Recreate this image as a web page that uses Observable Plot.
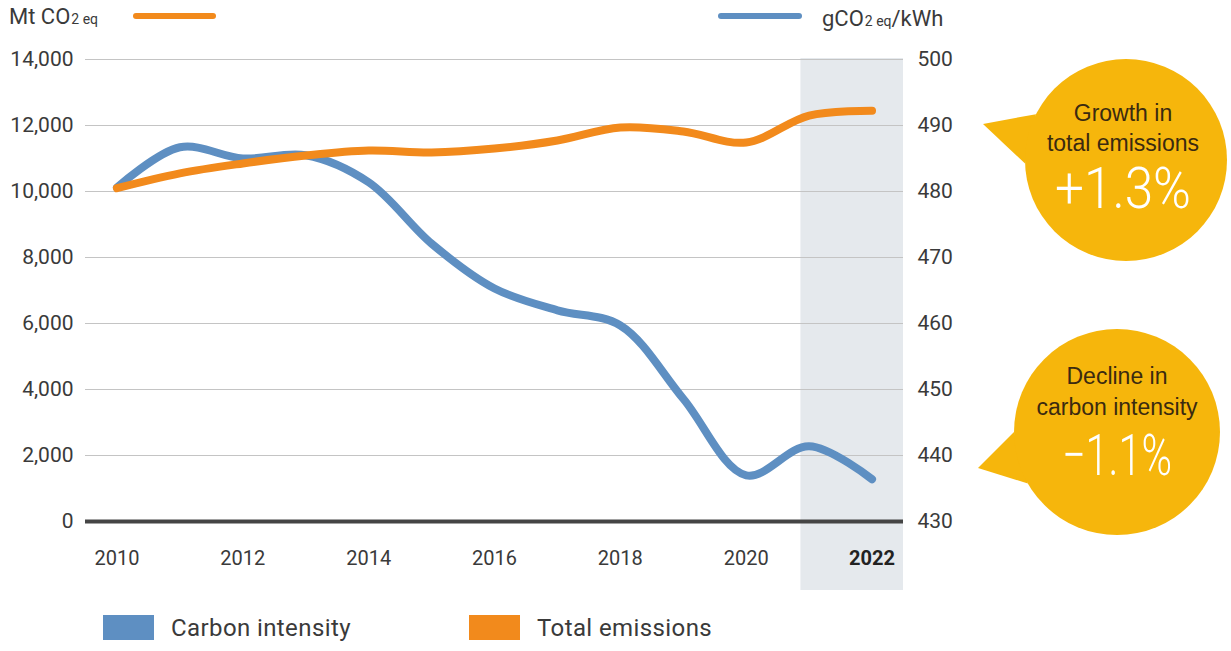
<!DOCTYPE html>
<html>
<head>
<meta charset="utf-8">
<script src="https://cdn.jsdelivr.net/npm/d3@7"></script>
<script src="https://cdn.jsdelivr.net/npm/@observablehq/plot@0.6"></script>
<style>
  body { margin: 0; background: #fff; }
  #root { position: relative; width: 1231px; height: 651px; font-family: Roboto, "Noto Sans", sans-serif; color: #333; }
  #legend { position: absolute; top: 614px; left: 103px; height: 27px; display: flex; align-items: center; font-size: 24px; letter-spacing: 0.4px; color: #3a3a3a; }
  .sw { display: inline-block; width: 51px; height: 25px; margin-right: 17px; }
</style>
</head>
<body>
<div id="root"></div>
<script>
// ---- data ----
const years = [2010, 2011, 2012, 2013, 2014, 2015, 2016, 2017, 2018, 2019, 2020, 2021, 2022];
const totalEmissions = [10100, 10550, 10850, 11090, 11240, 11180, 11300, 11545, 11940, 11820, 11485, 12300, 12450]; // Mt CO2eq
const carbonIntensity = [480.6, 486.7, 485.0, 485.5, 481.4, 472.1, 465.3, 462.0, 459.7, 448.6, 437.0, 441.4, 436.4]; // gCO2eq/kWh
const leftTicks = [0, 2000, 4000, 6000, 8000, 10000, 12000, 14000];
const rightDomain = [430, 500];
const xTickYears = [2010, 2012, 2014, 2016, 2018, 2020, 2022];
const highlightYear = 2022;
const highlightSpan = [2020.87, 2022.5];
const seriesNames = ["Carbon intensity", "Total emissions"];
const colors = {intensity: "#5E8FC2", total: "#F28A1C"};

const leftMax = 14000;
const toLeft = g => (g - rightDomain[0]) * leftMax / (rightDomain[1] - rightDomain[0]);
const toRight = v => rightDomain[0] + v * (rightDomain[1] - rightDomain[0]) / leftMax;

const rows = years.map((year, i) => ({year, total: totalEmissions[i], intensity: carbonIntensity[i]}));

const chart = Plot.plot({
  width: 1231,
  height: 600,
  marginTop: 59,
  marginBottom: 79,
  marginLeft: 85,
  marginRight: 328,
  style: {fontFamily: "Roboto, 'Noto Sans', sans-serif", fontSize: "21px", color: "#3a3a3a", background: "transparent", overflow: "visible"},
  x: {domain: [2009.5, 2022.5], axis: null, label: null},
  y: {domain: [0, leftMax], axis: null, label: null},
  marks: [
    Plot.rect([{x1: highlightSpan[0], x2: highlightSpan[1]}], {x1: "x1", x2: "x2", fill: "#E5E9ED", insetBottom: -69, insetTop: -1}),
    Plot.gridY(leftTicks, {stroke: "#c4c4c4", strokeOpacity: 1, strokeWidth: 1}),
    Plot.axisY(leftTicks, {anchor: "left", label: null, tickSize: 0, tickPadding: 12, tickFormat: d3.format(","), fontSize: 21}),
    Plot.axisY(leftTicks, {anchor: "right", label: null, tickSize: 0, tickPadding: 14, tickFormat: d => String(Math.round(toRight(d))), fontSize: 21}),
    Plot.axisX(xTickYears.filter(y => y !== highlightYear), {anchor: "bottom", label: null, tickSize: 0, tickPadding: 29, tickFormat: d => String(d), fontSize: 20}),
    Plot.axisX([highlightYear], {anchor: "bottom", label: null, tickSize: 0, tickPadding: 29, tickFormat: d => String(d), fontSize: 20, fontWeight: "bold", fill: "#222"}),
    Plot.line(rows, {x: "year", y: d => toLeft(d.intensity), curve: "catmull-rom", stroke: colors.intensity, strokeWidth: 8, strokeLinecap: "round", strokeLinejoin: "round"}),
    Plot.line(rows, {x: "year", y: "total", curve: "catmull-rom", stroke: colors.total, strokeWidth: 8, strokeLinecap: "round", strokeLinejoin: "round"}),
    Plot.ruleY([0], {stroke: "#454545", strokeWidth: 4})
  ]
});

document.getElementById("root").appendChild(chart);

// ---- header unit labels ----
const svg = d3.select(chart);
const hdr = svg.append("g").attr("font-family", "Roboto, 'Noto Sans', sans-serif").attr("fill", "#3a3a3a").attr("text-anchor", "start");
const t1 = hdr.append("text").attr("x", 9).attr("y", 24).attr("font-size", 22);
t1.append("tspan").text("Mt CO");
t1.append("tspan").attr("font-size", 14).attr("dx", 1).text("2 eq");
hdr.append("line").attr("x1", 136).attr("x2", 213).attr("y1", 16).attr("y2", 16)
  .attr("stroke", colors.total).attr("stroke-width", 6).attr("stroke-linecap", "round");
hdr.append("line").attr("x1", 721).attr("x2", 799).attr("y1", 16).attr("y2", 16)
  .attr("stroke", colors.intensity).attr("stroke-width", 6).attr("stroke-linecap", "round");
const t2 = hdr.append("text").attr("x", 822).attr("y", 26).attr("font-size", 22);
t2.append("tspan").text("gCO");
t2.append("tspan").attr("font-size", 14).attr("dx", 1).text("2 eq");
t2.append("tspan").text("/kWh");

// ---- callout bubbles ----
function bubble(cx, cy, r, tip, a1, a2, lines, big, bigY, bigW) {
  const g = svg.append("g");
  const rad = a => a * Math.PI / 180;
  const p1 = [cx + r * Math.cos(rad(a1)), cy + r * Math.sin(rad(a1))];
  const p2 = [cx + r * Math.cos(rad(a2)), cy + r * Math.sin(rad(a2))];
  g.append("path").attr("d", `M${tip[0]},${tip[1]}L${p1[0]},${p1[1]}L${p2[0]},${p2[1]}Z`).attr("fill", "#F6B60C");
  g.append("circle").attr("cx", cx).attr("cy", cy).attr("r", r).attr("fill", "#F6B60C");
  lines.forEach(([txt, x, y]) => {
    g.append("text").attr("x", x).attr("y", y).attr("text-anchor", "middle").attr("dominant-baseline", "central")
      .attr("font-family", "'Liberation Sans', Arial, sans-serif").attr("font-size", 23).attr("fill", "#3b2a10").text(txt);
  });
  g.append("text").attr("x", lines[1][1]).attr("y", bigY).attr("text-anchor", "middle").attr("dominant-baseline", "central")
    .attr("font-family", "Roboto, sans-serif").attr("font-weight", 300).attr("font-size", 58).attr("fill", "#fff")
    .attr("textLength", bigW).attr("lengthAdjust", "spacingAndGlyphs").text(big);
}
bubble(1126, 160, 101, [983, 124], 178, 207,
  [["Growth in", 1123, 113], ["total emissions", 1123, 143]], "+1.3%", 188, 136);
bubble(1117, 432, 103, [978, 468], 150, 180,
  [["Decline in", 1117, 376], ["carbon intensity", 1117, 407]], "\u22121.1%", 455, 110);
</script>
<div id="legend"></div>
<script>
const lg = document.getElementById("legend");
document.getElementById("root").appendChild(lg);
lg.innerHTML = `<span class="sw" style="background:${colors.intensity}"></span><span style="margin-right:${468 - 103 - 51 - 17 - 0}px;display:inline-block;width:0;"></span>`;
lg.innerHTML = `<span class="sw" style="background:${colors.intensity}"></span><span style="display:inline-block;width:298px">${seriesNames[0]}</span>` +
               `<span class="sw" style="background:${colors.total}"></span><span>${seriesNames[1]}</span>`;
</script>
</body>
</html>
